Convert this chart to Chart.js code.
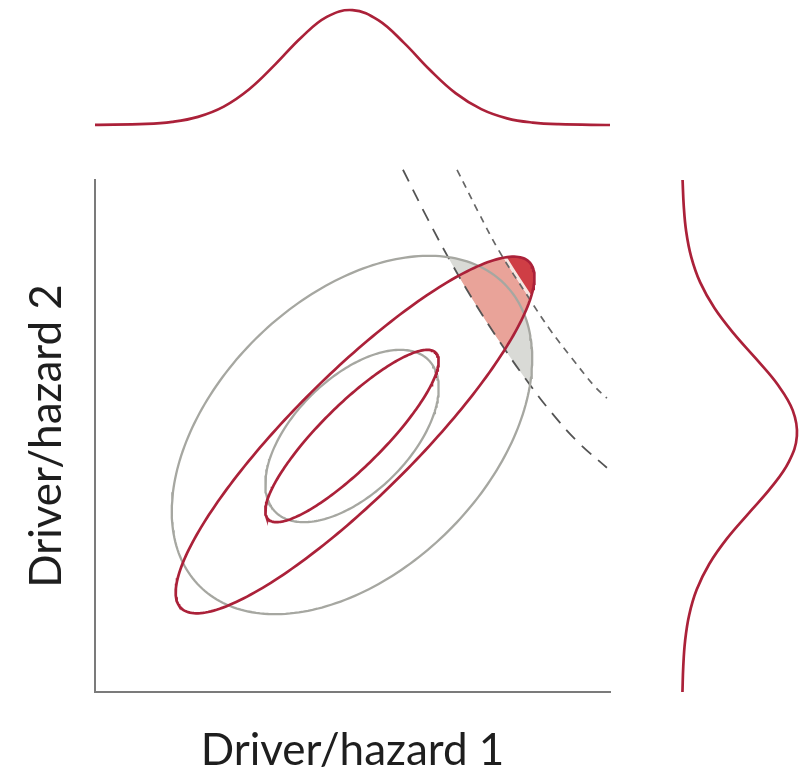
<!DOCTYPE html>
<html>
<head>
<meta charset="utf-8">
<script src="https://cdn.jsdelivr.net/npm/chart.js@4"></script>
<style>
  html, body { margin: 0; padding: 0; background: #ffffff; }
  #wrap { position: relative; width: 805px; height: 771px; overflow: hidden; }
  #wrap canvas { position: absolute; }
</style>
</head>
<body>
<div id="wrap">
  <canvas id="main" width="805" height="771" style="left:0;top:0"></canvas>
  <canvas id="top" width="805" height="180" style="left:0;top:0"></canvas>
  <canvas id="side" width="195" height="771" style="left:610px;top:0"></canvas>
</div>
<script>
// ---- Data (both drivers on a 0–10 scale) ----
const axisTitleX = 'Driver/hazard 1';
const axisTitleY = 'Driver/hazard 2';

// Probability contours: [wide independent, core independent, wide dependent, core dependent]
const ellipseCenterX   = [4.99, 4.99, 5.05, 4.99];
const ellipseCenterY   = [5.02, 5.00, 5.02, 5.00];
const ellipseSemiMajor = [4.18, 2.10, 4.78, 2.30];
const ellipseSemiMinor = [2.65, 1.12, 1.19, 0.61];
const ellipseAngleDeg  = [45, 45, 45, 45];

// Impact thresholds (outer = long dash, inner = short dash)
const outerThresholdX = [5.98, 6.47, 6.93, 7.40, 7.86, 8.35, 8.87, 9.38, 9.94];
const outerThresholdY = [10.20, 9.22, 8.36, 7.56, 6.84, 6.13, 5.45, 4.88, 4.38];
const innerThresholdX = [7.03, 7.44, 7.86, 8.41, 8.84, 9.26, 9.71, 9.94];
const innerThresholdY = [10.20, 9.38, 8.59, 7.72, 7.07, 6.52, 5.96, 5.74];

// Marginal distributions (relative density)
const hazard1Grid    = [0, 1, 1.5, 2, 2.5, 3, 3.5, 4, 4.5, 5, 5.5, 6, 6.5, 7, 7.5, 8, 8.5, 9, 10];
const hazard1Density = [0.001, 0.009, 0.027, 0.071, 0.16, 0.313, 0.527, 0.759, 0.94, 0.999, 0.912, 0.714, 0.48, 0.277, 0.138, 0.058, 0.021, 0.007, 0.0];
const hazard2Grid    = [0, 0.5, 1, 1.5, 2, 2.5, 3, 3.5, 4, 4.5, 5, 5.5, 6, 6.5, 7, 7.5, 8, 8.5, 9, 9.5, 10];
const hazard2Density = [0.004, 0.011, 0.027, 0.062, 0.128, 0.237, 0.392, 0.583, 0.777, 0.930, 0.999, 0.963, 0.833, 0.647, 0.451, 0.282, 0.158, 0.080, 0.036, 0.015, 0.005];

// ---- Styles ----
const RED = '#ab2139';
const GREY_LINE = '#a6a7a1';
const GREY_FILL = '#d9dad6';
const SALMON = '#e9a399';
const DARK_RED = '#cf3e45';
const PALE = '#f6e6e1';
const AXIS = '#7b7b7b';
const FONT = 'Lato, "Open Sans", "DejaVu Sans", sans-serif';

function ellipseOutline(i, n) {
  const th = ellipseAngleDeg[i] * Math.PI / 180;
  const pts = [];
  for (let k = 0; k <= n; k++) {
    const t = (k / n) * 2 * Math.PI;
    const u = ellipseSemiMajor[i] * Math.cos(t), v = ellipseSemiMinor[i] * Math.sin(t);
    pts.push({ x: ellipseCenterX[i] + u * Math.cos(th) - v * Math.sin(th),
               y: ellipseCenterY[i] + u * Math.sin(th) + v * Math.cos(th) });
  }
  return pts;
}
const zipXY = (xs, ys) => xs.map((x, i) => ({ x, y: ys[i] }));

const ellipseDS = (i, color, width, order) => ({
  data: ellipseOutline(i, 240), showLine: true, borderColor: color, borderWidth: width,
  pointRadius: 0, tension: 0, fill: false, order
});
const thresholdDS = (xs, ys, dash, color, width) => ({
  data: zipXY(xs, ys), showLine: true, borderColor: color, borderWidth: width,
  borderDash: dash, pointRadius: 0, tension: 0.4, capBezierPoints: false,
  fill: false, clip: false, order: 3
});

// Shaded exceedance regions: contour interior beyond a threshold curve
const regionFills = {
  id: 'regionFills',
  beforeDatasetsDraw(chart) {
    const ctx = chart.ctx;
    const meta = i => chart.getDatasetMeta(i);
    const clipTo = i => {
      const pts = meta(i).data;
      ctx.beginPath();
      pts.forEach((p, k) => k ? ctx.lineTo(p.x, p.y) : ctx.moveTo(p.x, p.y));
      ctx.closePath();
      ctx.clip();
    };
    const tracePath = i => {
      const m = meta(i), line = m.dataset, pts = m.data;
      let done = false;
      try {
        if (line && typeof line.path === 'function') {
          if (typeof line.updateControlPoints === 'function') line.updateControlPoints(chart.chartArea, 'x');
          line.path(ctx); done = true;
        }
      } catch (e) { done = false; }
      if (!done) pts.forEach((p, k) => k ? ctx.lineTo(p.x, p.y) : ctx.moveTo(p.x, p.y));
    };
    const beyond = i => {
      const pts = meta(i).data, first = pts[0], last = pts[pts.length - 1];
      ctx.beginPath();
      tracePath(i);
      ctx.lineTo(last.x + 500, last.y);
      ctx.lineTo(last.x + 500, first.y - 500);
      ctx.lineTo(first.x, first.y - 500);
      ctx.closePath();
    };
    // 0 wide grey, 2 wide red, 4 outer threshold, 5 inner threshold
    ctx.save(); clipTo(0); beyond(4); ctx.fillStyle = GREY_FILL; ctx.fill(); ctx.restore();
    ctx.save(); clipTo(2); beyond(4); ctx.fillStyle = SALMON; ctx.fill(); ctx.restore();
    ctx.save(); clipTo(2); beyond(5); ctx.fillStyle = DARK_RED; ctx.fill(); ctx.clip();
    // light band along the inner threshold, on its exceedance side
    ctx.beginPath(); tracePath(5); ctx.strokeStyle = PALE; ctx.lineWidth = 7; ctx.stroke();
    ctx.restore();
  }
};

new Chart(document.getElementById('main'), {
  type: 'scatter',
  data: {
    datasets: [
      ellipseDS(0, GREY_LINE, 2.3, 2),
      ellipseDS(1, GREY_LINE, 2.3, 2),
      ellipseDS(2, RED, 2.7, 1),
      ellipseDS(3, RED, 2.7, 1),
      thresholdDS(outerThresholdX, outerThresholdY, [13, 9], '#545454', 1.8),
      thresholdDS(innerThresholdX, innerThresholdY, [7, 6], '#666666', 1.7)
    ]
  },
  options: {
    responsive: false, animation: false,
    layout: { padding: { left: 0, right: 195, top: 180, bottom: 0 } },
    plugins: { legend: { display: false }, tooltip: { enabled: false } },
    scales: {
      x: {
        type: 'linear', min: 0, max: 10, position: 'bottom',
        grid: { display: false, drawTicks: false }, ticks: { display: false },
        border: { display: true, color: AXIS, width: 2 },
        title: { display: true, text: axisTitleX, color: '#1e1e1e',
                 font: { family: FONT, size: 44 }, padding: { top: 0, bottom: -6 } },
        afterFit: s => { s.height = 79; }
      },
      y: {
        type: 'linear', min: 0, max: 10, position: 'left',
        grid: { display: false, drawTicks: false }, ticks: { display: false },
        border: { display: true, color: AXIS, width: 2 },
        title: { display: true, text: axisTitleY, color: '#1e1e1e',
                 font: { family: FONT, size: 44 }, padding: { top: 20, bottom: 0 } },
        afterFit: s => { s.width = 95; }
      }
    }
  },
  plugins: [regionFills]
});

new Chart(document.getElementById('top'), {
  type: 'scatter',
  data: { datasets: [{ data: zipXY(hazard1Grid, hazard1Density), showLine: true, borderColor: RED,
                       borderWidth: 2.7, pointRadius: 0, tension: 0.4, clip: false, capBezierPoints: false }] },
  options: {
    responsive: false, animation: false,
    layout: { padding: { left: 95, right: 195, top: 10, bottom: 55 } },
    plugins: { legend: { display: false }, tooltip: { enabled: false } },
    scales: { x: { display: false, min: 0, max: 10 }, y: { display: false, min: 0, max: 1 } }
  }
});

new Chart(document.getElementById('side'), {
  type: 'scatter',
  data: { datasets: [{ data: zipXY(hazard2Density, hazard2Grid), showLine: true, borderColor: RED,
                       borderWidth: 2.7, pointRadius: 0, tension: 0.4, clip: false, capBezierPoints: false }] },
  options: {
    responsive: false, animation: false,
    layout: { padding: { left: 72, right: 8, top: 180, bottom: 79 } },
    plugins: { legend: { display: false }, tooltip: { enabled: false } },
    scales: { x: { display: false, min: 0, max: 1 }, y: { display: false, min: 0, max: 10 } }
  }
});
</script>
</body>
</html>
